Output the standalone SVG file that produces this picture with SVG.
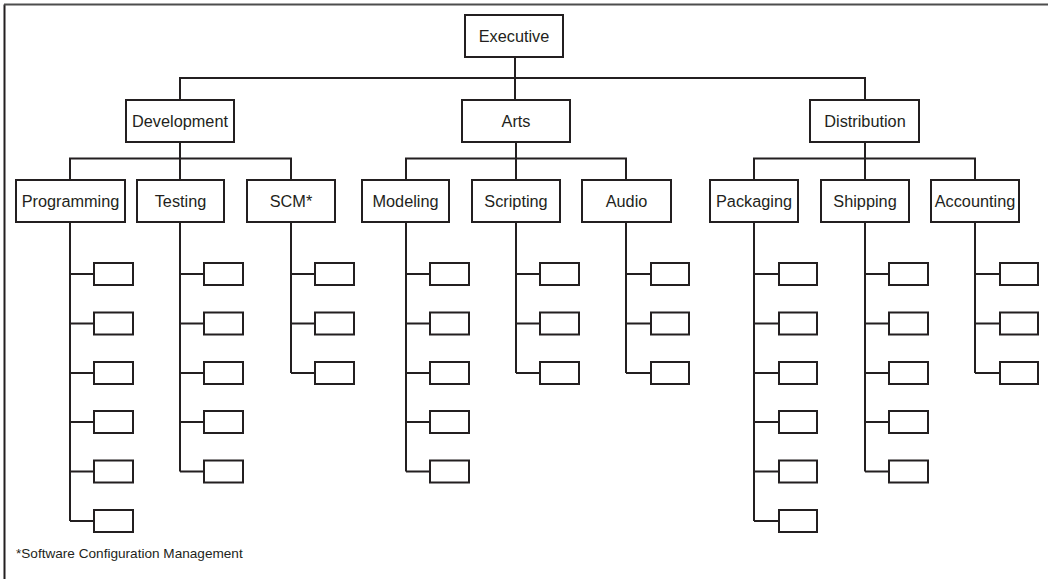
<svg xmlns="http://www.w3.org/2000/svg" width="1048" height="579" viewBox="0 0 1048 579">
<style>
.box{fill:#fff;stroke:#231f20;stroke-width:2}
.leaf{fill:#fff;stroke:#231f20;stroke-width:2}
.lbl{font-family:"Liberation Sans",Arial,sans-serif;font-size:16.3px;fill:#231f20;text-anchor:middle}
.conn{fill:none;stroke:#231f20;stroke-width:2}
.note{font-family:"Liberation Sans",Arial,sans-serif;font-size:13.6px;fill:#231f20}
</style>
<rect x="0" y="0" width="1048" height="579" fill="#fff"/>
<path d="M4.5 579 V4.5" stroke="#231f20" stroke-width="2" fill="none"/>
<path d="M4 4.5 H1048" stroke="#4d4d4d" stroke-width="2" fill="none"/>
<g id="connectors" class="conn">
<path d="M515 57 V78 M180 100 V78 H865 V100 M515 78 V100"/>
<path d="M180 142 V158.5 M70 180 V158.5 H291 V180 M180 158.5 V180"/>
<path d="M516 142 V158.5 M406 180 V158.5 H626 V180 M516 158.5 V180"/>
<path d="M865 142 V158.5 M754 180 V158.5 H975 V180 M865 158.5 V180"/>
<path d="M70 222 V521 M70 274 H94 M70 323.5 H94 M70 373 H94 M70 422 H94 M70 471.5 H94 M70 521 H94"/>
<path d="M180 222 V471.5 M180 274 H204 M180 323.5 H204 M180 373 H204 M180 422 H204 M180 471.5 H204"/>
<path d="M291 222 V373 M291 274 H315 M291 323.5 H315 M291 373 H315"/>
<path d="M406 222 V471.5 M406 274 H430 M406 323.5 H430 M406 373 H430 M406 422 H430 M406 471.5 H430"/>
<path d="M516 222 V373 M516 274 H540 M516 323.5 H540 M516 373 H540"/>
<path d="M626 222 V373 M626 274 H651 M626 323.5 H651 M626 373 H651"/>
<path d="M754 222 V521 M754 274 H779 M754 323.5 H779 M754 373 H779 M754 422 H779 M754 471.5 H779 M754 521 H779"/>
<path d="M865 222 V471.5 M865 274 H889 M865 323.5 H889 M865 373 H889 M865 422 H889 M865 471.5 H889"/>
<path d="M975 222 V373 M975 274 H1000 M975 323.5 H1000 M975 373 H1000"/>
</g>
<g id="executive"><rect class="box" x="465" y="15" width="98" height="42"/><text class="lbl" x="514" y="42">Executive</text></g>
<g id="development"><rect class="box" x="126" y="100" width="108" height="42"/><text class="lbl" x="180" y="127">Development</text></g>
<g id="arts"><rect class="box" x="462" y="100" width="108" height="42"/><text class="lbl" x="516" y="127">Arts</text></g>
<g id="distribution"><rect class="box" x="810" y="100" width="109" height="42"/><text class="lbl" x="865" y="127">Distribution</text></g>
<g id="programming"><rect class="box" x="16" y="180" width="109" height="42"/><text class="lbl" x="70.5" y="207">Programming</text></g>
<g id="testing"><rect class="box" x="137" y="180" width="87" height="42"/><text class="lbl" x="180.5" y="207">Testing</text></g>
<g id="scm"><rect class="box" x="247" y="180" width="88" height="42"/><text class="lbl" x="291" y="207">SCM*</text></g>
<g id="modeling"><rect class="box" x="362" y="180" width="87" height="42"/><text class="lbl" x="405.5" y="207">Modeling</text></g>
<g id="scripting"><rect class="box" x="472" y="180" width="88" height="42"/><text class="lbl" x="516" y="207">Scripting</text></g>
<g id="audio"><rect class="box" x="582" y="180" width="89" height="42"/><text class="lbl" x="626.5" y="207">Audio</text></g>
<g id="packaging"><rect class="box" x="710" y="180" width="88" height="42"/><text class="lbl" x="754" y="207">Packaging</text></g>
<g id="shipping"><rect class="box" x="821" y="180" width="88" height="42"/><text class="lbl" x="865" y="207">Shipping</text></g>
<g id="accounting"><rect class="box" x="931" y="180" width="88" height="42"/><text class="lbl" x="975" y="207">Accounting</text></g>
<g id="programming-leaves">
<rect class="leaf" x="94" y="263" width="39" height="22"/><rect class="leaf" x="94" y="312.5" width="39" height="22"/><rect class="leaf" x="94" y="362" width="39" height="22"/><rect class="leaf" x="94" y="411" width="39" height="22"/><rect class="leaf" x="94" y="460.5" width="39" height="22"/><rect class="leaf" x="94" y="510" width="39" height="22"/>
</g>
<g id="testing-leaves">
<rect class="leaf" x="204" y="263" width="39" height="22"/><rect class="leaf" x="204" y="312.5" width="39" height="22"/><rect class="leaf" x="204" y="362" width="39" height="22"/><rect class="leaf" x="204" y="411" width="39" height="22"/><rect class="leaf" x="204" y="460.5" width="39" height="22"/>
</g>
<g id="scm-leaves">
<rect class="leaf" x="315" y="263" width="39" height="22"/><rect class="leaf" x="315" y="312.5" width="39" height="22"/><rect class="leaf" x="315" y="362" width="39" height="22"/>
</g>
<g id="modeling-leaves">
<rect class="leaf" x="430" y="263" width="39" height="22"/><rect class="leaf" x="430" y="312.5" width="39" height="22"/><rect class="leaf" x="430" y="362" width="39" height="22"/><rect class="leaf" x="430" y="411" width="39" height="22"/><rect class="leaf" x="430" y="460.5" width="39" height="22"/>
</g>
<g id="scripting-leaves">
<rect class="leaf" x="540" y="263" width="39" height="22"/><rect class="leaf" x="540" y="312.5" width="39" height="22"/><rect class="leaf" x="540" y="362" width="39" height="22"/>
</g>
<g id="audio-leaves">
<rect class="leaf" x="651" y="263" width="38" height="22"/><rect class="leaf" x="651" y="312.5" width="38" height="22"/><rect class="leaf" x="651" y="362" width="38" height="22"/>
</g>
<g id="packaging-leaves">
<rect class="leaf" x="779" y="263" width="38" height="22"/><rect class="leaf" x="779" y="312.5" width="38" height="22"/><rect class="leaf" x="779" y="362" width="38" height="22"/><rect class="leaf" x="779" y="411" width="38" height="22"/><rect class="leaf" x="779" y="460.5" width="38" height="22"/><rect class="leaf" x="779" y="510" width="38" height="22"/>
</g>
<g id="shipping-leaves">
<rect class="leaf" x="889" y="263" width="39" height="22"/><rect class="leaf" x="889" y="312.5" width="39" height="22"/><rect class="leaf" x="889" y="362" width="39" height="22"/><rect class="leaf" x="889" y="411" width="39" height="22"/><rect class="leaf" x="889" y="460.5" width="39" height="22"/>
</g>
<g id="accounting-leaves">
<rect class="leaf" x="1000" y="263" width="38" height="22"/><rect class="leaf" x="1000" y="312.5" width="38" height="22"/><rect class="leaf" x="1000" y="362" width="38" height="22"/>
</g>
<text class="note" x="16" y="558">*Software Configuration Management</text>
</svg>
